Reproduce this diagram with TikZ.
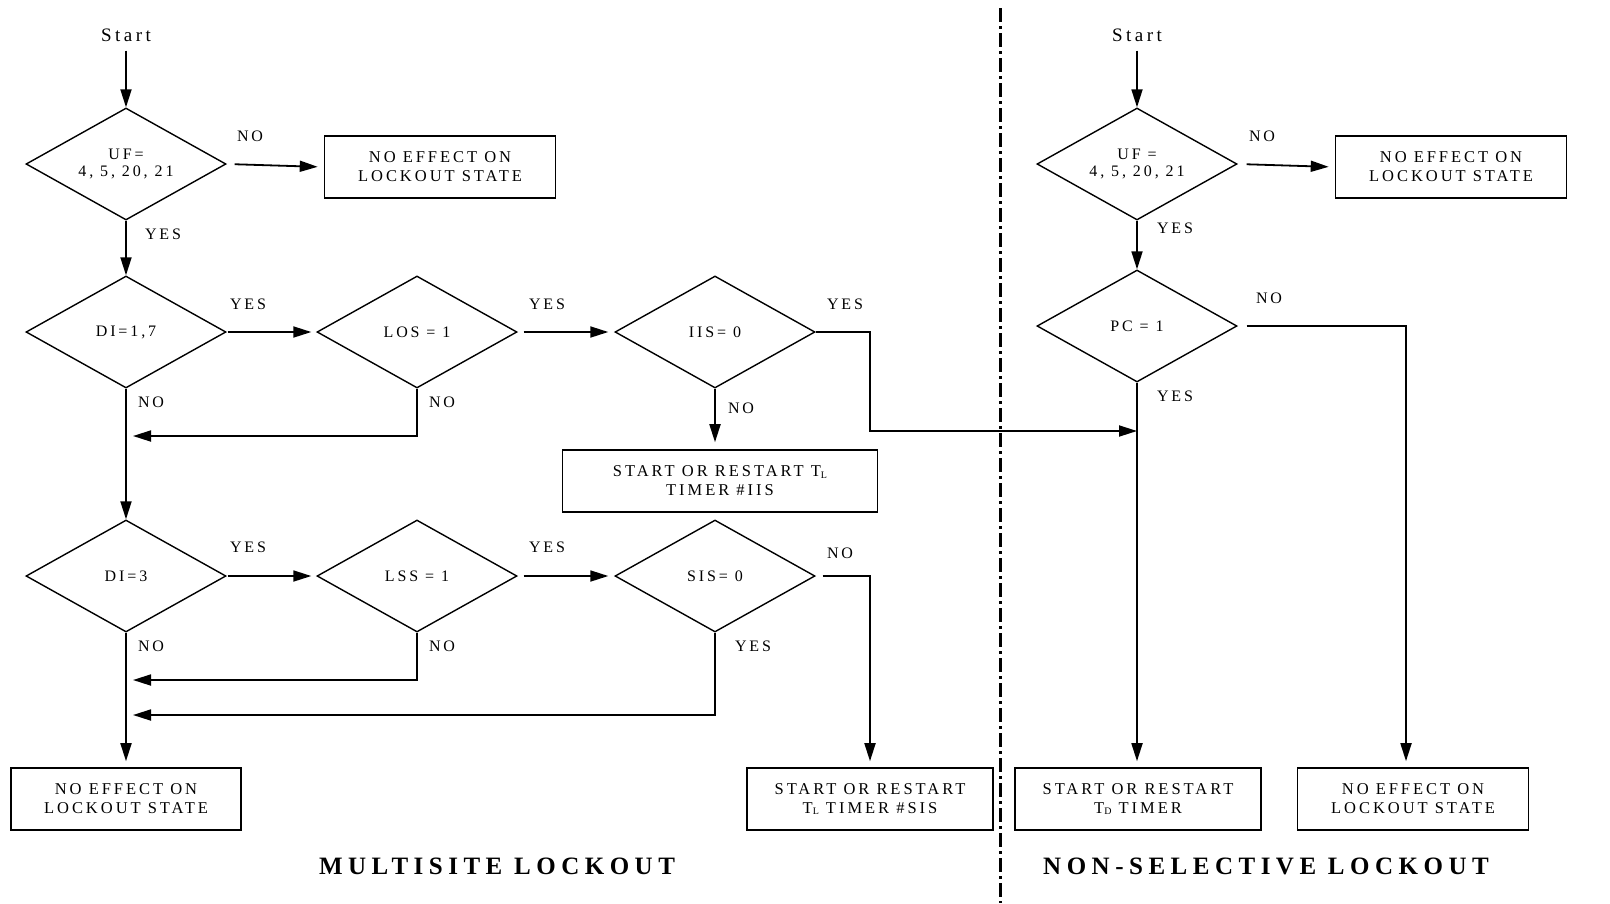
\documentclass[tikz,border=0pt]{standalone}
\usepackage{fontspec}
\setmainfont{Liberation Serif}
\newfontfamily\lsfont[LetterSpace=18]{Liberation Serif}
\newfontfamily\ttlfont[LetterSpace=22]{Liberation Serif}
\usetikzlibrary{shapes.geometric,arrows.meta}
\newcommand\subx[1]{\raisebox{-0.25ex}{\fontsize{10}{10}\selectfont #1}}
\tikzset{
  nf/.style={font=\lsfont\fontsize{16.5}{19}\selectfont},
  dec/.style={nf, draw, line width=1.4pt, shape=diamond, aspect=1.786,
    minimum width=200pt, minimum height=112pt, inner sep=0pt, align=center,
    font=\lsfont\fontsize{16}{16.5}\selectfont},
  procbox/.style={nf, draw, line width=1.6pt, minimum height=62pt, inner sep=0pt, align=center},
  lab/.style={font=\lsfont\fontsize{16}{16}\selectfont, inner sep=0pt},
  starttxt/.style={font=\lsfont\fontsize{19}{19}\selectfont, inner sep=0pt},
  ttl/.style={font=\ttlfont\bfseries\fontsize{25}{25}\selectfont, inner sep=0pt},
  arr/.style={line width=1.8pt, -{Triangle[length=18pt,width=11pt]}},
  ln/.style={line width=1.8pt},
  divider/.style={line width=3pt, dash pattern=on 14pt off 4pt on 3pt off 4pt}
}
\begin{document}
\begin{tikzpicture}[x=1pt,y=-1pt]
\useasboundingbox (0,0) rectangle (1610,903);
% ---------- left: multisite lockout ----------
\node[starttxt] (s1) at (126,35) {Start};
\node[dec] (uf1) at (126,164) {UF=\\4, 5, 20, 21};
\node[procbox, minimum width=231pt] (ne1) at (440,167) {NO EFFECT ON\\LOCKOUT STATE};
\node[dec] (di17) at (126,332) {DI=1,7};
\node[dec] (los) at (417,332) {LOS = 1};
\node[dec] (iis) at (715,332) {IIS= 0};
\node[procbox, minimum width=315pt] (tiis) at (720,481) {START OR RESTART T\subx{L}\\TIMER \#IIS};
\node[dec] (di3) at (126,576) {DI=3};
\node[dec] (lss) at (417,576) {LSS = 1};
\node[dec] (sis) at (715,576) {SIS= 0};
\node[procbox, minimum width=230pt] (ne2) at (126,799) {NO EFFECT ON\\LOCKOUT STATE};
\node[procbox, minimum width=246pt] (tsis) at (870,799) {START OR RESTART\\T\subx{L} TIMER \#SIS};
\node[ttl] (t1) at (497,866) {MULTISITE LOCKOUT};
% ---------- right: non-selective lockout ----------
\node[starttxt] (s2) at (1137,35) {Start};
\node[dec] (uf2) at (1137,164) {UF =\\4, 5, 20, 21};
\node[procbox, minimum width=231pt] (ne3) at (1451,167) {NO EFFECT ON\\LOCKOUT STATE};
\node[dec] (pc) at (1137,326) {PC = 1};
\node[procbox, minimum width=246pt] (td) at (1138,799) {START OR RESTART\\T\subx{D} TIMER};
\node[procbox, minimum width=231pt] (ne4) at (1413,799) {NO EFFECT ON\\LOCKOUT STATE};
\node[ttl] (t2) at (1266,866) {NON-SELECTIVE LOCKOUT};
% ---------- helper coordinates ----------
\coordinate (j1) at (1137,431);
\coordinate (j2) at (126,436);
\coordinate (j3) at (126,680);
\coordinate (j4) at (126,715);
\coordinate (dtop) at (1000,8);
\coordinate (dbot) at (1000,903);
% ---------- divider ----------
\draw[divider] (dtop) -- (dbot);
% ---------- connectors left ----------
\draw[arr, shorten <=9pt] (s1) -- (uf1.north);
\draw[arr, shorten <=8pt, shorten >=6pt] (uf1.east) -- (ne1.west);
\draw[arr] (uf1.south) -- (di17.north);
\draw[arr, shorten <=1pt, shorten >=5pt] (di17.east) -- (los.west);
\draw[arr, shorten <=6pt, shorten >=6pt] (los.east) -- (iis.west);
\draw[arr, shorten >=7pt] (iis.south) -- (iis.south |- tiis.north);
\draw[arr] (iis.east) -- ++(54,0) |- (j1);
\draw[arr] (di17.south) -- (di3.north);
\draw[arr, shorten >=7pt] (los.south) |- (j2);
\draw[arr, shorten <=1pt, shorten >=5pt] (di3.east) -- (lss.west);
\draw[arr, shorten <=6pt, shorten >=6pt] (lss.east) -- (sis.west);
\draw[arr, shorten >=7pt] (lss.south) |- (j3);
\draw[arr, shorten >=7pt] (sis.south) |- (j4);
\draw[arr, shorten >=6pt] (di3.south) -- (ne2.north);
\draw[arr, shorten <=7pt, shorten >=6pt] (sis.east) -| (tsis.north);
% ---------- connectors right ----------
\draw[arr, shorten <=9pt] (s2) -- (uf2.north);
\draw[arr, shorten <=9pt, shorten >=6pt] (uf2.east) -- (ne3.west);
\draw[arr] (uf2.south) -- (pc.north);
\draw[arr, shorten >=6pt] (pc.south) -- (pc.south |- td.north);
\draw[arr, shorten <=9pt, shorten >=6pt] (pc.east) -| ([xshift=-7pt]ne4.north);
% ---------- labels ----------
\node[lab] (l1) at (250,136) {NO};
\node[lab] (l2) at (163,234) {YES};
\node[lab] (l3) at (248,304) {YES};
\node[lab] (l4) at (547,304) {YES};
\node[lab] (l5) at (845,304) {YES};
\node[lab] (l6) at (151,402) {NO};
\node[lab] (l7) at (442,402) {NO};
\node[lab] (l8) at (741,408) {NO};
\node[lab] (l9) at (248,547) {YES};
\node[lab] (l10) at (547,547) {YES};
\node[lab] (l11) at (840,553) {NO};
\node[lab] (l12) at (151,646) {NO};
\node[lab] (l13) at (442,646) {NO};
\node[lab] (l14) at (753,646) {YES};
\node[lab] (l15) at (1262,136) {NO};
\node[lab] (l16) at (1175,228) {YES};
\node[lab] (l17) at (1269,298) {NO};
\node[lab] (l18) at (1175,396) {YES};
\end{tikzpicture}
\end{document}
